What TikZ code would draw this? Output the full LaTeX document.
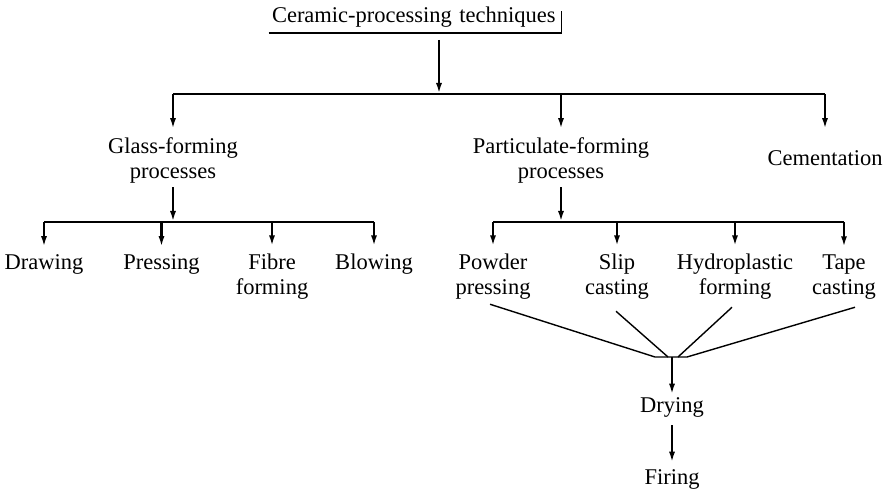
\documentclass[tikz,border=0pt]{standalone}
\usepackage{fontspec}
\setmainfont{Liberation Serif}
\usepackage{tikz}
\usetikzlibrary{arrows.meta, positioning}
\tikzstyle{proc} = [anchor=base, inner sep=0pt, align=center, font=\fontsize{11.25}{12.5}\selectfont]
\tikzstyle{arrow} = [line width=1.1pt, -{Latex[length=5.5pt, width=3pt]}]
\tikzstyle{branch} = [line width=0.9pt]
\tikzstyle{merge} = [line width=0.7pt]

\begin{document}
\begin{tikzpicture}[x=0.5pt, y=-0.5pt]
    \useasboundingbox (0,0) rectangle (884,491);
    \node[proc, text width=143pt, align=left, inner xsep=1.5pt, inner ysep=2.3pt] (title) at (415,23) {Ceramic-processing techniques};
    \draw[branch] (title.south west) -- (title.south east) -- ++(0,-22);
    \coordinate (bar1) at (439,94);
    \draw[arrow, shorten <=3.5pt] (title.south -| bar1) -- (bar1);
    \node[proc] (glass) at (173,179) {Glass-forming\\processes};
    \node[proc] (partic) at (561,179) {Particulate-forming\\processes};
    \node[proc] (cement) at (825,166) {Cementation};
    \draw[branch] (glass |- bar1) -- (cement |- bar1);
    \draw[arrow, shorten >=4.3pt] (glass |- bar1) -- (glass.north);
    \draw[arrow, shorten >=4.3pt] (partic |- bar1) -- (partic.north);
    \draw[arrow, shorten >=4.3pt] (cement |- bar1) -- (glass.north -| cement);
    \coordinate (gbar) at (173,222);
    \coordinate (pbar) at (561,222);
    \draw[arrow, shorten <=1.5pt] (glass.south) -- (gbar);
    \draw[arrow, shorten <=1.5pt] (partic.south) -- (pbar);
    \node[proc] (drawing) at (44,270) {Drawing};
    \node[proc] (pressing) at (161.5,270) {Pressing};
    \node[proc] (fibre) at (272,295) {Fibre\\forming};
    \node[proc] (blowing) at (374,270) {Blowing};
    \draw[branch] (drawing |- gbar) -- (blowing |- gbar);
    \draw[arrow, shorten >=3.8pt] (drawing |- gbar) -- (drawing.north);
    \draw[arrow, shorten >=3.8pt] (pressing |- gbar) -- (pressing.north);
    \draw[arrow, shorten >=3.8pt] (fibre |- gbar) -- (fibre.north);
    \draw[arrow, shorten >=3.8pt] (blowing |- gbar) -- (blowing.north);
    \node[proc] (powder) at (493,295) {Powder\\pressing};
    \node[proc] (slip) at (617,295) {Slip\\casting};
    \node[proc] (hydro) at (735,295) {Hydroplastic\\forming};
    \node[proc] (tape) at (844,295) {Tape\\casting};
    \draw[branch] (powder |- pbar) -- (tape |- pbar);
    \draw[arrow, shorten >=3.8pt] (powder |- pbar) -- (powder.north);
    \draw[arrow, shorten >=3.8pt] (slip |- pbar) -- (slip.north);
    \draw[arrow, shorten >=3.8pt] (hydro |- pbar) -- (hydro.north);
    \draw[arrow, shorten >=3.8pt] (tape |- pbar) -- (tape.north);
    \coordinate (jl) at (655,357);
    \coordinate (jn) at (672,357);
    \coordinate (jr) at (687,357);
    \draw[merge] ([xshift=-1.5pt, yshift=-2pt]powder.south) -- (jl) -- (jr) -- ([xshift=5.5pt, yshift=-3.5pt]tape.south);
    \draw[merge] ([xshift=-0.5pt, yshift=-5.5pt]slip.south) -- ([xshift=-2pt]jn);
    \draw[merge] ([xshift=-1.5pt, yshift=-3.5pt]hydro.south) -- ([xshift=3pt]jn);
    \node[proc] (drying) at (672,413) {Drying};
    \node[proc] (firing) at (672,485) {Firing};
    \draw[arrow, shorten >=1.5pt] (jn) -- (drying.north);
    \draw[arrow, shorten <=3.5pt, shorten >=3.5pt] (drying.south) -- (firing.north);
\end{tikzpicture}
\end{document}
